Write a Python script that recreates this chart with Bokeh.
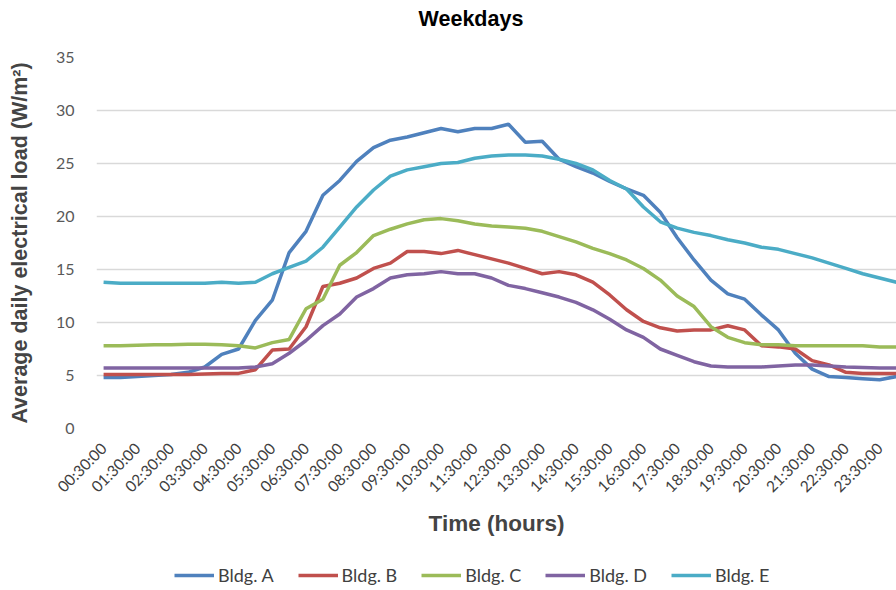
import math
from bokeh.plotting import figure
from bokeh.layouts import column
from bokeh.models import Range1d, FixedTicker, Legend, LegendItem, Label
from bokeh.embed import file_html
from bokeh.resources import INLINE

times = ["00:30:00", "01:00:00", "01:30:00", "02:00:00", "02:30:00", "03:00:00",
         "03:30:00", "04:00:00", "04:30:00", "05:00:00", "05:30:00", "06:00:00",
         "06:30:00", "07:00:00", "07:30:00", "08:00:00", "08:30:00", "09:00:00",
         "09:30:00", "10:00:00", "10:30:00", "11:00:00", "11:30:00", "12:00:00",
         "12:30:00", "13:00:00", "13:30:00", "14:00:00", "14:30:00", "15:00:00",
         "15:30:00", "16:00:00", "16:30:00", "17:00:00", "17:30:00", "18:00:00",
         "18:30:00", "19:00:00", "19:30:00", "20:00:00", "20:30:00", "21:00:00",
         "21:30:00", "22:00:00", "22:30:00", "23:00:00", "23:30:00", "00:00:00"]

bldg_a = [4.8, 4.8, 4.9, 5.0, 5.1, 5.3, 5.8, 7.0, 7.5, 10.2, 12.1, 16.6,
          18.6, 22.0, 23.4, 25.2, 26.5, 27.2, 27.5, 27.9, 28.3, 28.0, 28.3, 28.3,
          28.7, 27.0, 27.1, 25.4, 24.7, 24.1, 23.3, 22.6, 22.0, 20.4, 18.0, 15.9,
          14.0, 12.7, 12.2, 10.7, 9.3, 7.1, 5.6, 4.9, 4.8, 4.7, 4.6, 4.9]
bldg_b = [5.1, 5.1, 5.1, 5.1, 5.1, 5.1, 5.15, 5.2, 5.2, 5.55, 7.4, 7.5,
          9.6, 13.4, 13.7, 14.2, 15.1, 15.6, 16.7, 16.7, 16.5, 16.8, 16.4, 16.0,
          15.6, 15.1, 14.6, 14.8, 14.5, 13.8, 12.6, 11.2, 10.1, 9.5, 9.2, 9.3,
          9.3, 9.7, 9.3, 7.8, 7.7, 7.5, 6.4, 6.0, 5.3, 5.2, 5.2, 5.2]
bldg_c = [7.8, 7.8, 7.85, 7.9, 7.9, 7.95, 7.95, 7.9, 7.8, 7.6, 8.1, 8.4,
          11.3, 12.2, 15.4, 16.6, 18.2, 18.8, 19.3, 19.7, 19.8, 19.6, 19.3, 19.1,
          19.0, 18.9, 18.6, 18.1, 17.6, 17.0, 16.5, 15.9, 15.1, 14.0, 12.5, 11.5,
          9.6, 8.6, 8.1, 7.9, 7.9, 7.8, 7.8, 7.8, 7.8, 7.8, 7.7, 7.7]
bldg_d = [5.7, 5.7, 5.7, 5.7, 5.7, 5.7, 5.7, 5.7, 5.7, 5.8, 6.1, 7.1,
          8.3, 9.7, 10.8, 12.4, 13.2, 14.2, 14.5, 14.6, 14.8, 14.6, 14.6, 14.2,
          13.5, 13.2, 12.8, 12.4, 11.9, 11.2, 10.3, 9.3, 8.6, 7.5, 6.9, 6.3,
          5.9, 5.8, 5.8, 5.8, 5.9, 6.0, 6.0, 5.9, 5.8, 5.75, 5.7, 5.7]
bldg_e = [13.8, 13.7, 13.7, 13.7, 13.7, 13.7, 13.7, 13.8, 13.7, 13.8, 14.6, 15.2,
          15.8, 17.1, 19.0, 20.9, 22.5, 23.8, 24.4, 24.7, 25.0, 25.1, 25.5, 25.7,
          25.8, 25.8, 25.7, 25.4, 25.0, 24.4, 23.4, 22.6, 20.9, 19.5, 18.9, 18.5,
          18.2, 17.8, 17.5, 17.1, 16.9, 16.5, 16.1, 15.6, 15.1, 14.6, 14.2, 13.8]

series_names = ["Bldg. A", "Bldg. B", "Bldg. C", "Bldg. D", "Bldg. E"]
series_values = [bldg_a, bldg_b, bldg_c, bldg_d, bldg_e]
colors = ["#4F81BD", "#C0504D", "#9BBB59", "#8064A2", "#4BACC6"]
y_ticks = [0, 5, 10, 15, 20, 25, 30, 35]
chart_title = "Weekdays"

xs = list(range(len(times)))
x_range = Range1d(-0.42, 47.0)

# title strip
tf = figure(width=896, height=47, output_backend="svg", toolbar_location=None,
            x_range=x_range, y_range=Range1d(0, 1), min_border=0)
tf.axis.visible = False
tf.grid.visible = False
tf.outline_line_color = None
tf.add_layout(Label(x=18.67, y=0.6, text=chart_title, text_font="Liberation Sans",
                    text_font_size="21.5px", text_font_style="bold",
                    text_color="#000000", text_align="left",
                    text_baseline="alphabetic"))

p = figure(width=896, height=508, output_backend="svg", toolbar_location=None,
           x_range=x_range, y_range=Range1d(0, 35),
           min_border_left=96, min_border_right=0, min_border_top=10,
           min_border_bottom=127)
p.outline_line_color = None
p.background_fill_color = "white"
p.border_fill_color = "white"

# y axis
p.yaxis.ticker = FixedTicker(ticks=y_ticks)
p.yaxis.axis_label = "Average daily electrical load (W/m\u00b2)"
p.yaxis.axis_label_text_font = "Liberation Sans"
p.yaxis.axis_label_text_font_size = "21.5px"
p.yaxis.axis_label_text_font_style = "bold"
p.yaxis.axis_label_standoff = 21
p.yaxis.major_label_text_font = "Lato"
p.yaxis.major_label_text_font_size = "16px"
p.yaxis.major_label_text_color = "#595959"
p.yaxis.major_label_standoff = 16
p.yaxis.axis_line_color = None
p.yaxis.major_tick_line_color = None
p.yaxis.minor_tick_line_color = None

# x axis
tick_idx = list(range(0, len(times), 2))
p.xaxis.ticker = FixedTicker(ticks=tick_idx)
p.xaxis.major_label_overrides = {i: times[i] for i in tick_idx}
p.xaxis.major_label_orientation = math.pi / 4
p.xaxis.major_label_text_font = "Lato"
p.xaxis.major_label_text_font_size = "15.5px"
p.xaxis.major_label_text_color = "#404040"
p.xaxis.major_label_standoff = 11
p.xaxis.axis_label = "Time (hours)"
p.xaxis.axis_label_text_font = "Liberation Sans"
p.xaxis.axis_label_text_font_size = "22.5px"
p.xaxis.axis_label_text_font_style = "bold"
p.xaxis.axis_label_standoff = 6
p.xaxis.axis_line_color = None
p.xaxis.major_tick_line_color = None
p.xaxis.minor_tick_line_color = None

p.xgrid.grid_line_color = None
p.ygrid.grid_line_color = "#D9D9D9"
p.ygrid.grid_line_width = 1.5

for vals, col in zip(series_values, colors):
    p.line(xs, vals, line_color=col, line_width=3.5)

# legend strip below the chart
lg = figure(width=896, height=35, output_backend="svg", toolbar_location=None,
            x_range=Range1d(1000, 1001), y_range=Range1d(1000, 1001),
            min_border=0)
lg.axis.visible = False
lg.grid.visible = False
lg.outline_line_color = None
items = []
for name, vals, col in zip(series_names, series_values, colors):
    r = lg.line(xs, vals, line_color=col, line_width=3.5)
    items.append(LegendItem(label=name, renderers=[r]))
legend = Legend(items=items, orientation="horizontal", location=(78, 4),
                label_text_font="Lato", label_text_font_size="18px",
                label_text_color="#404040", glyph_width=40, glyph_height=18,
                label_standoff=4, spacing=24, padding=0, margin=0,
                border_line_color=None, background_fill_alpha=0)
lg.add_layout(legend, "center")

layout = column(tf, p, lg, spacing=0)
open("out.html", "w").write(file_html(layout, INLINE))
